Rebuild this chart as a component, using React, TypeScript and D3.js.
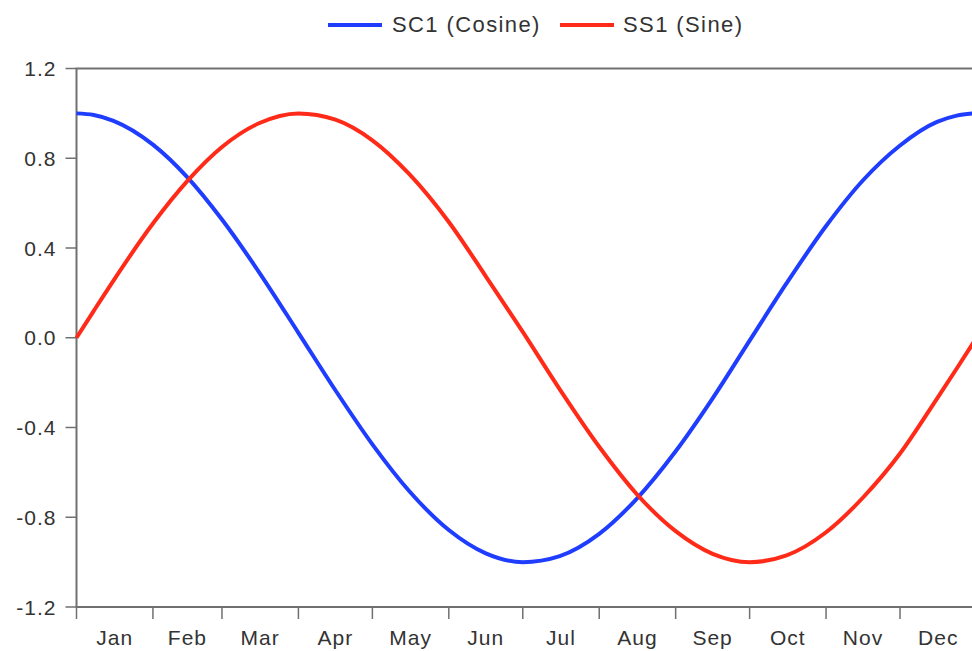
import React, { useEffect, useRef } from "react";
import * as d3 from "d3";

const days = [0, 7, 15, 31, 45, 59, 74, 90, 105, 120, 135, 151, 166, 181, 196, 212, 227, 243, 258, 273, 288, 304, 319, 334, 349, 357, 364];

const cosine = [1.0, 0.993, 0.967, 0.861, 0.715, 0.527, 0.293, 0.022, -0.234, -0.475, -0.684, -0.857, -0.961, -1.0, -0.973, -0.874, -0.72, -0.506, -0.27, -0.013, 0.243, 0.498, 0.702, 0.857, 0.962, 0.99, 1.0];
const sine = [0.0, 0.12, 0.255, 0.509, 0.699, 0.85, 0.956, 1.0, 0.972, 0.88, 0.729, 0.516, 0.274, 0.026, -0.23, -0.486, -0.694, -0.862, -0.963, -1.0, -0.97, -0.867, -0.712, -0.516, -0.271, -0.137, -0.017];

const months = ["Jan", "Feb", "Mar", "Apr", "May", "Jun", "Jul", "Aug", "Sep", "Oct", "Nov", "Dec"];
const yTicks = [-1.2, -0.8, -0.4, 0.0, 0.4, 0.8, 1.2];

const seriesList = [
  { name: "SC1 (Cosine)", values: cosine, color: "#1f3dff" },
  { name: "SS1 (Sine)", values: sine, color: "#ff2a17" },
];

const width = 972;
const height = 651;
const margin = { top: 68.5, right: -2, bottom: 44, left: 76.5 };
const FONT = "'Liberation Sans', Arial, sans-serif";

const App = () => {
  const svgRef = useRef(null);

  useEffect(() => {
    const svg = d3.select(svgRef.current);
    svg.selectAll("*").remove();

    const start = new Date(Date.UTC(2001, 0, 1));
    const end = new Date(Date.UTC(2001, 11, 31));
    const x = d3
      .scaleUtc()
      .domain([start, end])
      .range([margin.left, width - margin.right]);
    const y = d3
      .scaleLinear()
      .domain([-1.2, 1.2])
      .range([height - margin.bottom, margin.top]);

    const toDate = (d) => d3.utcDay.offset(start, d);
    const axisColor = "#707070";
    const textColor = "#333";

    // Frame (left, bottom, top)
    svg
      .append("path")
      .attr("d", `M${width},${y(1.2)}H${margin.left}V${y(-1.2)}H${width}`)
      .attr("fill", "none")
      .attr("stroke", axisColor)
      .attr("stroke-width", 2);

    // Y ticks + labels
    const yg = svg.append("g");
    yTicks.forEach((t) => {
      yg.append("line")
        .attr("x1", margin.left - 11)
        .attr("x2", margin.left)
        .attr("y1", y(t))
        .attr("y2", y(t))
        .attr("stroke", axisColor)
        .attr("stroke-width", 1.5);
      yg.append("text")
        .attr("x", margin.left - 20)
        .attr("y", y(t))
        .attr("dy", "0.36em")
        .attr("text-anchor", "end")
        .attr("font-family", FONT)
        .attr("font-size", 21)
        .attr("letter-spacing", 1)
        .attr("fill", textColor)
        .text(d3.format(".1f")(t).replace("\u2212", "-"));
    });

    // X month ticks + labels
    const monthStarts = d3.utcMonth.range(start, d3.utcYear.offset(start, 1));
    const xg = svg.append("g");
    monthStarts.forEach((m, i) => {
      xg.append("line")
        .attr("x1", x(m))
        .attr("x2", x(m))
        .attr("y1", y(-1.2))
        .attr("y2", y(-1.2) + 12)
        .attr("stroke", axisColor)
        .attr("stroke-width", 1.5);
      const next = d3.utcMonth.offset(m, 1);
      xg.append("text")
        .attr("x", (x(m) + x(next)) / 2)
        .attr("y", 645)
        .attr("text-anchor", "middle")
        .attr("font-family", FONT)
        .attr("font-size", 21)
        .attr("letter-spacing", 1)
        .attr("fill", textColor)
        .text(months[i]);
    });

    // Lines
    const line = d3
      .line()
      .x((d) => x(toDate(d[0])))
      .y((d) => y(d[1]))
      .curve(d3.curveMonotoneX);

    seriesList.forEach((s) => {
      svg
        .append("path")
        .datum(days.map((d, i) => [d, s.values[i]]))
        .attr("d", line)
        .attr("fill", "none")
        .attr("stroke", s.color)
        .attr("stroke-width", 4);
    });

    // Legend
    const legendItems = [
      { x: 328, textX: 392 },
      { x: 560, textX: 623 },
    ];
    seriesList.forEach((s, i) => {
      const li = legendItems[i];
      svg
        .append("line")
        .attr("x1", li.x)
        .attr("x2", li.x + 54)
        .attr("y1", 25)
        .attr("y2", 25)
        .attr("stroke", s.color)
        .attr("stroke-width", 4);
      svg
        .append("text")
        .attr("x", li.textX)
        .attr("y", 32)
        .attr("font-family", FONT)
        .attr("font-size", 22)
        .attr("letter-spacing", 1.4)
        .attr("fill", textColor)
        .text(s.name);
    });
  }, []);

  return (
    <svg
      ref={svgRef}
      width={width}
      height={height}
      style={{ position: "absolute", left: 0, top: 0, background: "#fff" }}
    ></svg>
  );
};

export default App;
